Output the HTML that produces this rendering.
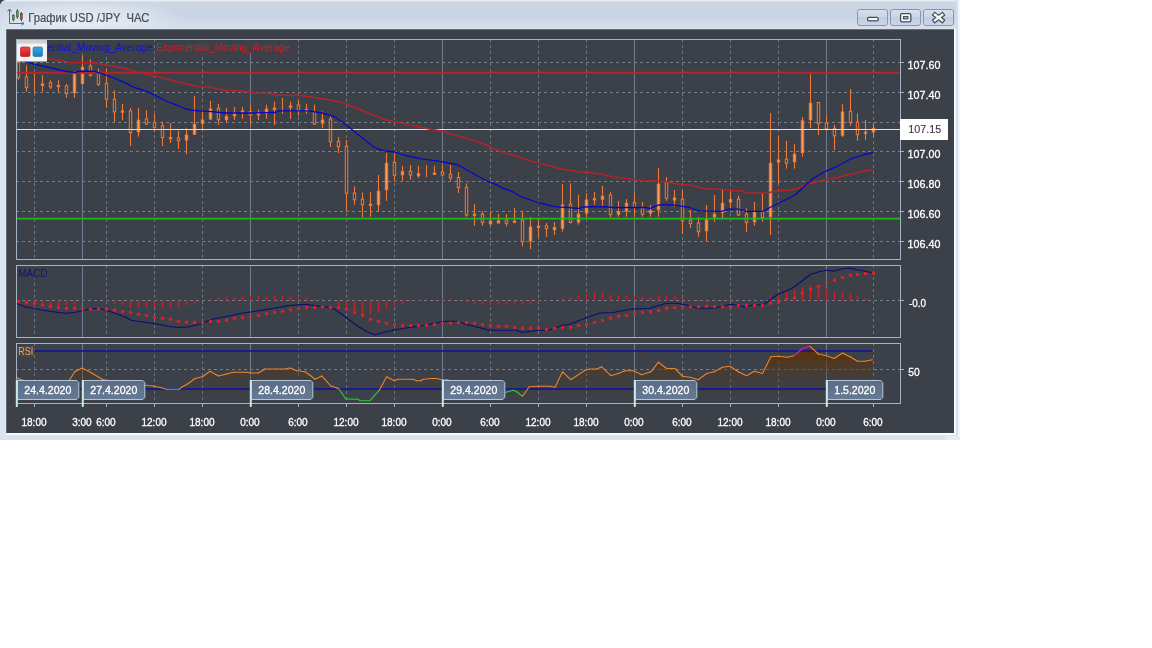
<!DOCTYPE html>
<html lang="ru"><head><meta charset="utf-8"><title>График USD /JPY ЧАС</title>
<style>html,body{margin:0;padding:0;background:#fff;}body{width:1152px;height:648px;overflow:hidden;}svg{display:block;}text{white-space:pre;}</style>
</head><body>
<svg width="1152" height="648" viewBox="0 0 1152 648" font-family='"Liberation Sans", "DejaVu Sans", sans-serif' font-size="11">
<defs>
<linearGradient id="tb" gradientUnits="userSpaceOnUse" x1="0" y1="0" x2="0" y2="30"><stop offset="0" stop-color="#dfe6ee"/><stop offset="0.1" stop-color="#ccd7e4"/><stop offset="0.5" stop-color="#c6d3e3"/><stop offset="0.85" stop-color="#d3deeb"/><stop offset="1" stop-color="#d9e3ef"/></linearGradient>
<radialGradient id="glow" cx="0.5" cy="0.5" r="0.5"><stop offset="0" stop-color="#ffffff" stop-opacity="0.55"/><stop offset="0.6" stop-color="#ffffff" stop-opacity="0.3"/><stop offset="1" stop-color="#ffffff" stop-opacity="0"/></radialGradient>
<linearGradient id="btn" x1="0" y1="0" x2="0" y2="1"><stop offset="0" stop-color="#d6e0ec"/><stop offset="0.45" stop-color="#cbd7e6"/><stop offset="0.5" stop-color="#bfcde0"/><stop offset="1" stop-color="#cbd8e8"/></linearGradient>
<linearGradient id="rsif" gradientUnits="userSpaceOnUse" x1="0" y1="344" x2="0" y2="403"><stop offset="0" stop-color="#5e3206" stop-opacity="0.95"/><stop offset="0.2" stop-color="#5c3208" stop-opacity="0.85"/><stop offset="0.5" stop-color="#5a3510" stop-opacity="0.33"/><stop offset="0.8" stop-color="#503820" stop-opacity="0.08"/><stop offset="1" stop-color="#503820" stop-opacity="0"/></linearGradient>
<linearGradient id="dl" x1="0" y1="0" x2="0" y2="1"><stop offset="0" stop-color="#5b6b86"/><stop offset="1" stop-color="#677a94"/></linearGradient>
<linearGradient id="rsq" x1="0" y1="0" x2="0" y2="1"><stop offset="0" stop-color="#f04a4a"/><stop offset="1" stop-color="#c8181e"/></linearGradient>
<linearGradient id="bsq" x1="0" y1="0" x2="0" y2="1"><stop offset="0" stop-color="#35a8e0"/><stop offset="1" stop-color="#1480c0"/></linearGradient>
<clipPath id="c1"><rect x="16" y="39" width="885" height="221"/></clipPath>
<clipPath id="c3"><rect x="16" y="344" width="885" height="59.5"/></clipPath>
</defs>
<rect width="1152" height="648" fill="#ffffff"/>
<path d="M0 6 Q0 0 6 0 H959 V440 H0 Z" fill="url(#tb)"/>
<rect x="0" y="0" width="959" height="1" fill="#e9eef3"/>
<path d="M0 0 H5 Q1 1 0 5 Z" fill="#3a3f46"/>
<rect x="957" y="0" width="3" height="2" fill="#4a4f58"/>
<ellipse cx="80" cy="17" rx="110" ry="16" fill="url(#glow)"/>
<rect x="0" y="30" width="959" height="410" fill="#dbe5f1"/>
<rect x="956" y="0" width="2" height="440" fill="#cfdff0"/>
<rect x="958" y="0" width="2" height="440" fill="#f2f5f9"/>
<rect x="0" y="436" width="945" height="4" fill="#d9e3ef"/>
<rect x="945" y="436" width="15" height="4" fill="#e4ebf3"/>
<rect x="6" y="29" width="950" height="406" fill="#f8fafc"/>
<rect x="6" y="29" width="948" height="404" fill="#8a9097"/>
<rect x="6.5" y="29.6" width="947.5" height="403.4" fill="#3b4049"/>
<g fill="none" stroke="#4d6a88" stroke-width="1"><path d="M9.5 9.5 V23.5 H23.5"/><path d="M7.5 11.5 L9.5 9 L11.5 11.5"/><path d="M21.5 21.5 L24 23.5 L21.5 25.5"/></g>
<g stroke-width="0.9"><path d="M13.4 14 V21.5" stroke="#35603e"/><rect x="12.6" y="15.6" width="1.6" height="4.2" fill="#5a9a64" stroke="#35603e" stroke-width="0.7"/><path d="M17.4 9 V19" stroke="#35603e"/><rect x="16.6" y="11" width="1.6" height="6" fill="#5a9a64" stroke="#35603e" stroke-width="0.7"/><path d="M21.4 12 V21" stroke="#6a3434"/><rect x="20.6" y="13.4" width="1.6" height="6" fill="#9a5454" stroke="#6a3434" stroke-width="0.7"/></g>
<text x="28.3" y="21.8" font-size="12" fill="#474c5c" stroke="#474c5c" stroke-width="0.2" textLength="121" lengthAdjust="spacingAndGlyphs" xml:space="preserve">График USD /JPY  ЧАС</text>
<rect x="857.5" y="9.5" width="30" height="16" rx="2.5" fill="url(#btn)" stroke="#8b97a8" stroke-width="1"/>
<rect x="890.5" y="9.5" width="30" height="16" rx="2.5" fill="url(#btn)" stroke="#8b97a8" stroke-width="1"/>
<rect x="923.5" y="9.5" width="30" height="16" rx="2.5" fill="url(#btn)" stroke="#8b97a8" stroke-width="1"/>
<rect x="867.6" y="17.4" width="10.6" height="3.4" rx="1.2" fill="#f4f6f8" stroke="#484d56" stroke-width="1.3"/>
<rect x="900.6" y="13.6" width="10.2" height="8.2" rx="1.2" fill="#f4f6f8" stroke="#484d56" stroke-width="1.3"/><rect x="903.6" y="16.6" width="4.2" height="2.2" fill="#ccd7e4" stroke="#484d56" stroke-width="1.2"/>
<path d="M935 14.8 L942.2 20.4 M942.2 14.8 L935 20.4" stroke="#484d56" stroke-width="4.8" stroke-linecap="square" fill="none"/><path d="M935 14.8 L942.2 20.4 M942.2 14.8 L935 20.4" stroke="#f4f6f8" stroke-width="2.4" stroke-linecap="square" fill="none"/>
<path d="M34.5 39.0 V259.5" stroke="#697581" stroke-width="1" stroke-dasharray="3 3" fill="none"/>
<path d="M106.5 39.0 V259.5" stroke="#697581" stroke-width="1" stroke-dasharray="3 3" fill="none"/>
<path d="M154.5 39.0 V259.5" stroke="#697581" stroke-width="1" stroke-dasharray="3 3" fill="none"/>
<path d="M202.5 39.0 V259.5" stroke="#697581" stroke-width="1" stroke-dasharray="3 3" fill="none"/>
<path d="M298.5 39.0 V259.5" stroke="#697581" stroke-width="1" stroke-dasharray="3 3" fill="none"/>
<path d="M346.5 39.0 V259.5" stroke="#697581" stroke-width="1" stroke-dasharray="3 3" fill="none"/>
<path d="M394.5 39.0 V259.5" stroke="#697581" stroke-width="1" stroke-dasharray="3 3" fill="none"/>
<path d="M490.5 39.0 V259.5" stroke="#697581" stroke-width="1" stroke-dasharray="3 3" fill="none"/>
<path d="M538.5 39.0 V259.5" stroke="#697581" stroke-width="1" stroke-dasharray="3 3" fill="none"/>
<path d="M586.5 39.0 V259.5" stroke="#697581" stroke-width="1" stroke-dasharray="3 3" fill="none"/>
<path d="M682.5 39.0 V259.5" stroke="#697581" stroke-width="1" stroke-dasharray="3 3" fill="none"/>
<path d="M730.5 39.0 V259.5" stroke="#697581" stroke-width="1" stroke-dasharray="3 3" fill="none"/>
<path d="M778.5 39.0 V259.5" stroke="#697581" stroke-width="1" stroke-dasharray="3 3" fill="none"/>
<path d="M873.5 39.0 V259.5" stroke="#697581" stroke-width="1" stroke-dasharray="3 3" fill="none"/>
<path d="M82.5 39.5 V259.5" stroke="#6c7d91" stroke-width="1" fill="none"/>
<path d="M250.5 39.5 V259.5" stroke="#6c7d91" stroke-width="1" fill="none"/>
<path d="M442.5 39.5 V259.5" stroke="#6c7d91" stroke-width="1" fill="none"/>
<path d="M634.5 39.5 V259.5" stroke="#6c7d91" stroke-width="1" fill="none"/>
<path d="M826.5 39.5 V259.5" stroke="#6c7d91" stroke-width="1" fill="none"/>
<path d="M16.0 62.5 H900.5" stroke="#727e8b" stroke-width="1" stroke-dasharray="3 3" fill="none"/>
<path d="M900.5 62.5 H904.0" stroke="#a2b4c5" stroke-width="1" fill="none"/>
<path d="M16.0 92.5 H900.5" stroke="#727e8b" stroke-width="1" stroke-dasharray="3 3" fill="none"/>
<path d="M900.5 92.5 H904.0" stroke="#a2b4c5" stroke-width="1" fill="none"/>
<path d="M16.0 122.5 H900.5" stroke="#727e8b" stroke-width="1" stroke-dasharray="3 3" fill="none"/>
<path d="M900.5 122.5 H904.0" stroke="#a2b4c5" stroke-width="1" fill="none"/>
<path d="M16.0 151.5 H900.5" stroke="#727e8b" stroke-width="1" stroke-dasharray="3 3" fill="none"/>
<path d="M900.5 151.5 H904.0" stroke="#a2b4c5" stroke-width="1" fill="none"/>
<path d="M16.0 181.5 H900.5" stroke="#727e8b" stroke-width="1" stroke-dasharray="3 3" fill="none"/>
<path d="M900.5 181.5 H904.0" stroke="#a2b4c5" stroke-width="1" fill="none"/>
<path d="M16.0 211.5 H900.5" stroke="#727e8b" stroke-width="1" stroke-dasharray="3 3" fill="none"/>
<path d="M900.5 211.5 H904.0" stroke="#a2b4c5" stroke-width="1" fill="none"/>
<path d="M16.0 241.5 H900.5" stroke="#727e8b" stroke-width="1" stroke-dasharray="3 3" fill="none"/>
<path d="M900.5 241.5 H904.0" stroke="#a2b4c5" stroke-width="1" fill="none"/>
<path d="M34.5 265.0 V337.5" stroke="#697581" stroke-width="1" stroke-dasharray="3 3" fill="none"/>
<path d="M106.5 265.0 V337.5" stroke="#697581" stroke-width="1" stroke-dasharray="3 3" fill="none"/>
<path d="M154.5 265.0 V337.5" stroke="#697581" stroke-width="1" stroke-dasharray="3 3" fill="none"/>
<path d="M202.5 265.0 V337.5" stroke="#697581" stroke-width="1" stroke-dasharray="3 3" fill="none"/>
<path d="M298.5 265.0 V337.5" stroke="#697581" stroke-width="1" stroke-dasharray="3 3" fill="none"/>
<path d="M346.5 265.0 V337.5" stroke="#697581" stroke-width="1" stroke-dasharray="3 3" fill="none"/>
<path d="M394.5 265.0 V337.5" stroke="#697581" stroke-width="1" stroke-dasharray="3 3" fill="none"/>
<path d="M490.5 265.0 V337.5" stroke="#697581" stroke-width="1" stroke-dasharray="3 3" fill="none"/>
<path d="M538.5 265.0 V337.5" stroke="#697581" stroke-width="1" stroke-dasharray="3 3" fill="none"/>
<path d="M586.5 265.0 V337.5" stroke="#697581" stroke-width="1" stroke-dasharray="3 3" fill="none"/>
<path d="M682.5 265.0 V337.5" stroke="#697581" stroke-width="1" stroke-dasharray="3 3" fill="none"/>
<path d="M730.5 265.0 V337.5" stroke="#697581" stroke-width="1" stroke-dasharray="3 3" fill="none"/>
<path d="M778.5 265.0 V337.5" stroke="#697581" stroke-width="1" stroke-dasharray="3 3" fill="none"/>
<path d="M873.5 265.0 V337.5" stroke="#697581" stroke-width="1" stroke-dasharray="3 3" fill="none"/>
<path d="M82.5 265.5 V337.5" stroke="#6c7d91" stroke-width="1" fill="none"/>
<path d="M250.5 265.5 V337.5" stroke="#6c7d91" stroke-width="1" fill="none"/>
<path d="M442.5 265.5 V337.5" stroke="#6c7d91" stroke-width="1" fill="none"/>
<path d="M634.5 265.5 V337.5" stroke="#6c7d91" stroke-width="1" fill="none"/>
<path d="M826.5 265.5 V337.5" stroke="#6c7d91" stroke-width="1" fill="none"/>
<path d="M16.0 300.5 H900.5" stroke="#727e8b" stroke-width="1" stroke-dasharray="3 3" fill="none"/>
<path d="M900.5 300.5 H904.0" stroke="#a2b4c5" stroke-width="1" fill="none"/>
<path d="M34.5 343.0 V403.5" stroke="#697581" stroke-width="1" stroke-dasharray="3 3" fill="none"/>
<path d="M106.5 343.0 V403.5" stroke="#697581" stroke-width="1" stroke-dasharray="3 3" fill="none"/>
<path d="M154.5 343.0 V403.5" stroke="#697581" stroke-width="1" stroke-dasharray="3 3" fill="none"/>
<path d="M202.5 343.0 V403.5" stroke="#697581" stroke-width="1" stroke-dasharray="3 3" fill="none"/>
<path d="M298.5 343.0 V403.5" stroke="#697581" stroke-width="1" stroke-dasharray="3 3" fill="none"/>
<path d="M346.5 343.0 V403.5" stroke="#697581" stroke-width="1" stroke-dasharray="3 3" fill="none"/>
<path d="M394.5 343.0 V403.5" stroke="#697581" stroke-width="1" stroke-dasharray="3 3" fill="none"/>
<path d="M490.5 343.0 V403.5" stroke="#697581" stroke-width="1" stroke-dasharray="3 3" fill="none"/>
<path d="M538.5 343.0 V403.5" stroke="#697581" stroke-width="1" stroke-dasharray="3 3" fill="none"/>
<path d="M586.5 343.0 V403.5" stroke="#697581" stroke-width="1" stroke-dasharray="3 3" fill="none"/>
<path d="M682.5 343.0 V403.5" stroke="#697581" stroke-width="1" stroke-dasharray="3 3" fill="none"/>
<path d="M730.5 343.0 V403.5" stroke="#697581" stroke-width="1" stroke-dasharray="3 3" fill="none"/>
<path d="M778.5 343.0 V403.5" stroke="#697581" stroke-width="1" stroke-dasharray="3 3" fill="none"/>
<path d="M873.5 343.0 V403.5" stroke="#697581" stroke-width="1" stroke-dasharray="3 3" fill="none"/>
<path d="M82.5 343.5 V403.5" stroke="#6c7d91" stroke-width="1" fill="none"/>
<path d="M250.5 343.5 V403.5" stroke="#6c7d91" stroke-width="1" fill="none"/>
<path d="M442.5 343.5 V403.5" stroke="#6c7d91" stroke-width="1" fill="none"/>
<path d="M634.5 343.5 V403.5" stroke="#6c7d91" stroke-width="1" fill="none"/>
<path d="M826.5 343.5 V403.5" stroke="#6c7d91" stroke-width="1" fill="none"/>
<path d="M16.0 369.5 H900.5" stroke="#727e8b" stroke-width="1" stroke-dasharray="3 3" fill="none"/>
<path d="M900.5 369.5 H904.0" stroke="#a2b4c5" stroke-width="1" fill="none"/>
<g clip-path="url(#c1)">
<path d="M18.5 61.0 V79.7" stroke="#ee7a3a" stroke-width="1.1" fill="none"/>
<rect x="17.3" y="62.3" width="2.4" height="15.4" fill="#453c38" stroke="#ee7a3a" stroke-width="1"/>
<path d="M26.5 65.2 V91.8" stroke="#ee7a3a" stroke-width="1.1" fill="none"/>
<rect x="25.3" y="76.8" width="2.4" height="10.9" fill="#453c38" stroke="#ee7a3a" stroke-width="1"/>
<path d="M34.5 74.0 V92.7" stroke="#ee7a3a" stroke-width="1.1" fill="none"/>
<path d="M42.5 75.2 V91.8" stroke="#ee7a3a" stroke-width="1.1" fill="none"/>
<rect x="41.3" y="84.0" width="2.4" height="1.5" fill="#ff9a55" stroke="#ee7a3a" stroke-width="1"/>
<path d="M50.5 80.2 V89.0" stroke="#ee7a3a" stroke-width="1.1" fill="none"/>
<rect x="49.3" y="82.7" width="2.4" height="4.1" fill="#453c38" stroke="#ee7a3a" stroke-width="1"/>
<path d="M58.5 80.2 V92.3" stroke="#ee7a3a" stroke-width="1.1" fill="none"/>
<rect x="57.3" y="85.5" width="2.4" height="1.2" fill="#ff9a55" stroke="#ee7a3a" stroke-width="1"/>
<path d="M66.5 84.0 V98.0" stroke="#ee7a3a" stroke-width="1.1" fill="none"/>
<rect x="65.3" y="86.0" width="2.4" height="7.5" fill="#453c38" stroke="#ee7a3a" stroke-width="1"/>
<path d="M74.5 71.0 V98.0" stroke="#ee7a3a" stroke-width="1.1" fill="none"/>
<rect x="73.3" y="74.7" width="2.4" height="18.0" fill="#ff9a55" stroke="#ee7a3a" stroke-width="1"/>
<path d="M82.5 56.0 V84.3" stroke="#ee7a3a" stroke-width="1.1" fill="none"/>
<rect x="81.3" y="67.3" width="2.4" height="16.2" fill="#ff9a55" stroke="#ee7a3a" stroke-width="1"/>
<path d="M90.5 59.3 V76.8" stroke="#ee7a3a" stroke-width="1.1" fill="none"/>
<rect x="89.3" y="66.0" width="2.4" height="9.2" fill="#453c38" stroke="#ee7a3a" stroke-width="1"/>
<path d="M98.5 68.5 V86.0" stroke="#ee7a3a" stroke-width="1.1" fill="none"/>
<rect x="97.3" y="72.7" width="2.4" height="11.6" fill="#453c38" stroke="#ee7a3a" stroke-width="1"/>
<path d="M106.5 68.5 V107.7" stroke="#ee7a3a" stroke-width="1.1" fill="none"/>
<rect x="105.3" y="83.5" width="2.4" height="15.8" fill="#453c38" stroke="#ee7a3a" stroke-width="1"/>
<path d="M114.5 90.2 V121.8" stroke="#ee7a3a" stroke-width="1.1" fill="none"/>
<rect x="113.3" y="99.3" width="2.4" height="12.5" fill="#453c38" stroke="#ee7a3a" stroke-width="1"/>
<path d="M122.5 104.0 V120.2" stroke="#ee7a3a" stroke-width="1.1" fill="none"/>
<rect x="121.3" y="111.0" width="2.4" height="1.2" fill="#ff9a55" stroke="#ee7a3a" stroke-width="1"/>
<path d="M130.5 108.0 V145.8" stroke="#ee7a3a" stroke-width="1.1" fill="none"/>
<rect x="129.3" y="111.0" width="2.4" height="21.5" fill="#453c38" stroke="#ee7a3a" stroke-width="1"/>
<path d="M138.5 108.0 V136.7" stroke="#ee7a3a" stroke-width="1.1" fill="none"/>
<rect x="137.3" y="120.2" width="2.4" height="11.6" fill="#ff9a55" stroke="#ee7a3a" stroke-width="1"/>
<path d="M146.5 110.2 V125.2" stroke="#ee7a3a" stroke-width="1.1" fill="none"/>
<rect x="145.3" y="119.0" width="2.4" height="5.0" fill="#453c38" stroke="#ee7a3a" stroke-width="1"/>
<path d="M154.5 114.0 V131.8" stroke="#ee7a3a" stroke-width="1.1" fill="none"/>
<rect x="153.3" y="122.7" width="2.4" height="4.6" fill="#453c38" stroke="#ee7a3a" stroke-width="1"/>
<path d="M162.5 121.7 V145.8" stroke="#ee7a3a" stroke-width="1.1" fill="none"/>
<rect x="161.3" y="125.8" width="2.4" height="11.7" fill="#453c38" stroke="#ee7a3a" stroke-width="1"/>
<path d="M170.5 123.0 V143.0" stroke="#ee7a3a" stroke-width="1.1" fill="none"/>
<rect x="169.3" y="137.5" width="2.4" height="1.2" fill="#ff9a55" stroke="#ee7a3a" stroke-width="1"/>
<path d="M178.5 130.8 V149.2" stroke="#ee7a3a" stroke-width="1.1" fill="none"/>
<rect x="177.3" y="138.0" width="2.4" height="2.8" fill="#453c38" stroke="#ee7a3a" stroke-width="1"/>
<path d="M186.5 128.3 V154.2" stroke="#ee7a3a" stroke-width="1.1" fill="none"/>
<rect x="185.3" y="135.0" width="2.4" height="5.0" fill="#ff9a55" stroke="#ee7a3a" stroke-width="1"/>
<path d="M194.5 96.0 V135.0" stroke="#ee7a3a" stroke-width="1.1" fill="none"/>
<rect x="193.3" y="124.2" width="2.4" height="10.0" fill="#ff9a55" stroke="#ee7a3a" stroke-width="1"/>
<path d="M202.5 110.0 V129.0" stroke="#ee7a3a" stroke-width="1.1" fill="none"/>
<rect x="201.3" y="120.0" width="2.4" height="3.3" fill="#ff9a55" stroke="#ee7a3a" stroke-width="1"/>
<path d="M210.5 100.8 V120.0" stroke="#ee7a3a" stroke-width="1.1" fill="none"/>
<rect x="209.3" y="109.0" width="2.4" height="10.0" fill="#ff9a55" stroke="#ee7a3a" stroke-width="1"/>
<path d="M218.5 104.0 V125.0" stroke="#ee7a3a" stroke-width="1.1" fill="none"/>
<rect x="217.3" y="108.3" width="2.4" height="11.4" fill="#453c38" stroke="#ee7a3a" stroke-width="1"/>
<path d="M226.5 108.0 V122.5" stroke="#ee7a3a" stroke-width="1.1" fill="none"/>
<rect x="225.3" y="116.7" width="2.4" height="3.0" fill="#ff9a55" stroke="#ee7a3a" stroke-width="1"/>
<path d="M234.5 107.0 V120.0" stroke="#ee7a3a" stroke-width="1.1" fill="none"/>
<rect x="233.3" y="113.0" width="2.4" height="3.0" fill="#ff9a55" stroke="#ee7a3a" stroke-width="1"/>
<path d="M242.5 107.0 V119.0" stroke="#ee7a3a" stroke-width="1.1" fill="none"/>
<rect x="241.3" y="111.0" width="2.4" height="1.2" fill="#ff9a55" stroke="#ee7a3a" stroke-width="1"/>
<path d="M250.5 104.7 V125.8" stroke="#ee7a3a" stroke-width="1.1" fill="none"/>
<rect x="249.3" y="111.7" width="2.4" height="3.3" fill="#453c38" stroke="#ee7a3a" stroke-width="1"/>
<path d="M258.5 109.7 V120.0" stroke="#ee7a3a" stroke-width="1.1" fill="none"/>
<rect x="257.3" y="113.5" width="2.4" height="1.2" fill="#ff9a55" stroke="#ee7a3a" stroke-width="1"/>
<path d="M266.5 104.7 V119.0" stroke="#ee7a3a" stroke-width="1.1" fill="none"/>
<rect x="265.3" y="109.0" width="2.4" height="4.3" fill="#ff9a55" stroke="#ee7a3a" stroke-width="1"/>
<path d="M274.5 101.7 V125.0" stroke="#ee7a3a" stroke-width="1.1" fill="none"/>
<rect x="273.3" y="108.2" width="2.4" height="1.2" fill="#ff9a55" stroke="#ee7a3a" stroke-width="1"/>
<path d="M282.5 98.0 V114.0" stroke="#ee7a3a" stroke-width="1.1" fill="none"/>
<path d="M290.5 101.7 V119.0" stroke="#ee7a3a" stroke-width="1.1" fill="none"/>
<rect x="289.3" y="106.0" width="2.4" height="1.2" fill="#ff9a55" stroke="#ee7a3a" stroke-width="1"/>
<path d="M298.5 100.0 V115.8" stroke="#ee7a3a" stroke-width="1.1" fill="none"/>
<rect x="297.3" y="105.0" width="2.4" height="5.8" fill="#453c38" stroke="#ee7a3a" stroke-width="1"/>
<path d="M306.5 103.7 V114.0" stroke="#ee7a3a" stroke-width="1.1" fill="none"/>
<rect x="305.3" y="109.5" width="2.4" height="1.2" fill="#ff9a55" stroke="#ee7a3a" stroke-width="1"/>
<path d="M314.5 104.7 V125.0" stroke="#ee7a3a" stroke-width="1.1" fill="none"/>
<rect x="313.3" y="111.7" width="2.4" height="12.3" fill="#453c38" stroke="#ee7a3a" stroke-width="1"/>
<path d="M322.5 111.3 V128.0" stroke="#ee7a3a" stroke-width="1.1" fill="none"/>
<rect x="321.3" y="120.0" width="2.4" height="3.0" fill="#ff9a55" stroke="#ee7a3a" stroke-width="1"/>
<path d="M330.5 116.3 V147.0" stroke="#ee7a3a" stroke-width="1.1" fill="none"/>
<rect x="329.3" y="119.0" width="2.4" height="22.7" fill="#453c38" stroke="#ee7a3a" stroke-width="1"/>
<path d="M338.5 137.0 V153.0" stroke="#ee7a3a" stroke-width="1.1" fill="none"/>
<rect x="337.3" y="141.3" width="2.4" height="5.4" fill="#453c38" stroke="#ee7a3a" stroke-width="1"/>
<path d="M346.5 140.0 V211.3" stroke="#ee7a3a" stroke-width="1.1" fill="none"/>
<rect x="345.3" y="146.3" width="2.4" height="47.0" fill="#453c38" stroke="#ee7a3a" stroke-width="1"/>
<path d="M354.5 186.3 V204.7" stroke="#ee7a3a" stroke-width="1.1" fill="none"/>
<rect x="353.3" y="193.0" width="2.4" height="6.7" fill="#453c38" stroke="#ee7a3a" stroke-width="1"/>
<path d="M362.5 192.5 V217.5" stroke="#ee7a3a" stroke-width="1.1" fill="none"/>
<rect x="361.3" y="199.2" width="2.4" height="5.5" fill="#453c38" stroke="#ee7a3a" stroke-width="1"/>
<path d="M370.5 192.0 V216.7" stroke="#ee7a3a" stroke-width="1.1" fill="none"/>
<rect x="369.3" y="204.2" width="2.4" height="1.2" fill="#ff9a55" stroke="#ee7a3a" stroke-width="1"/>
<path d="M378.5 175.0 V211.3" stroke="#ee7a3a" stroke-width="1.1" fill="none"/>
<rect x="377.3" y="191.3" width="2.4" height="13.4" fill="#ff9a55" stroke="#ee7a3a" stroke-width="1"/>
<path d="M386.5 153.0 V200.8" stroke="#ee7a3a" stroke-width="1.1" fill="none"/>
<rect x="385.3" y="163.3" width="2.4" height="26.4" fill="#ff9a55" stroke="#ee7a3a" stroke-width="1"/>
<path d="M394.5 153.3 V180.8" stroke="#ee7a3a" stroke-width="1.1" fill="none"/>
<rect x="393.3" y="162.5" width="2.4" height="12.8" fill="#453c38" stroke="#ee7a3a" stroke-width="1"/>
<path d="M402.5 165.8 V180.8" stroke="#ee7a3a" stroke-width="1.1" fill="none"/>
<rect x="401.3" y="171.7" width="2.4" height="3.0" fill="#ff9a55" stroke="#ee7a3a" stroke-width="1"/>
<path d="M410.5 165.0 V179.7" stroke="#ee7a3a" stroke-width="1.1" fill="none"/>
<rect x="409.3" y="171.3" width="2.4" height="3.7" fill="#453c38" stroke="#ee7a3a" stroke-width="1"/>
<path d="M418.5 165.8 V178.0" stroke="#ee7a3a" stroke-width="1.1" fill="none"/>
<rect x="417.3" y="173.7" width="2.4" height="2.1" fill="#ff9a55" stroke="#ee7a3a" stroke-width="1"/>
<path d="M426.5 165.0 V177.0" stroke="#ee7a3a" stroke-width="1.1" fill="none"/>
<path d="M434.5 165.8 V175.0" stroke="#ee7a3a" stroke-width="1.1" fill="none"/>
<rect x="433.3" y="173.0" width="2.4" height="1.5" fill="#ff9a55" stroke="#ee7a3a" stroke-width="1"/>
<path d="M442.5 165.8 V175.3" stroke="#ee7a3a" stroke-width="1.1" fill="none"/>
<rect x="441.3" y="172.0" width="2.4" height="3.0" fill="#453c38" stroke="#ee7a3a" stroke-width="1"/>
<path d="M450.5 165.0 V180.8" stroke="#ee7a3a" stroke-width="1.1" fill="none"/>
<rect x="449.3" y="174.2" width="2.4" height="3.8" fill="#453c38" stroke="#ee7a3a" stroke-width="1"/>
<path d="M458.5 172.0 V193.0" stroke="#ee7a3a" stroke-width="1.1" fill="none"/>
<rect x="457.3" y="177.5" width="2.4" height="10.0" fill="#453c38" stroke="#ee7a3a" stroke-width="1"/>
<path d="M466.5 183.3 V216.7" stroke="#ee7a3a" stroke-width="1.1" fill="none"/>
<rect x="465.3" y="187.5" width="2.4" height="27.5" fill="#453c38" stroke="#ee7a3a" stroke-width="1"/>
<path d="M474.5 204.2 V225.8" stroke="#ee7a3a" stroke-width="1.1" fill="none"/>
<rect x="473.3" y="214.2" width="2.4" height="1.2" fill="#ff9a55" stroke="#ee7a3a" stroke-width="1"/>
<path d="M482.5 211.3 V225.8" stroke="#ee7a3a" stroke-width="1.1" fill="none"/>
<rect x="481.3" y="214.2" width="2.4" height="8.3" fill="#453c38" stroke="#ee7a3a" stroke-width="1"/>
<path d="M490.5 211.3 V225.8" stroke="#ee7a3a" stroke-width="1.1" fill="none"/>
<rect x="489.3" y="221.3" width="2.4" height="2.4" fill="#ff9a55" stroke="#ee7a3a" stroke-width="1"/>
<path d="M498.5 214.2 V223.3" stroke="#ee7a3a" stroke-width="1.1" fill="none"/>
<rect x="497.3" y="220.8" width="2.4" height="2.2" fill="#ff9a55" stroke="#ee7a3a" stroke-width="1"/>
<path d="M506.5 214.2 V226.3" stroke="#ee7a3a" stroke-width="1.1" fill="none"/>
<rect x="505.3" y="220.0" width="2.4" height="3.3" fill="#453c38" stroke="#ee7a3a" stroke-width="1"/>
<path d="M514.5 208.0 V223.3" stroke="#ee7a3a" stroke-width="1.1" fill="none"/>
<rect x="513.3" y="221.2" width="2.4" height="1.2" fill="#ff9a55" stroke="#ee7a3a" stroke-width="1"/>
<path d="M522.5 210.8 V246.3" stroke="#ee7a3a" stroke-width="1.1" fill="none"/>
<rect x="521.3" y="220.0" width="2.4" height="21.7" fill="#453c38" stroke="#ee7a3a" stroke-width="1"/>
<path d="M530.5 217.0 V249.2" stroke="#ee7a3a" stroke-width="1.1" fill="none"/>
<rect x="529.3" y="227.0" width="2.4" height="13.8" fill="#ff9a55" stroke="#ee7a3a" stroke-width="1"/>
<path d="M538.5 218.7 V237.5" stroke="#ee7a3a" stroke-width="1.1" fill="none"/>
<rect x="537.3" y="226.2" width="2.4" height="1.2" fill="#ff9a55" stroke="#ee7a3a" stroke-width="1"/>
<path d="M546.5 223.0 V237.0" stroke="#ee7a3a" stroke-width="1.1" fill="none"/>
<rect x="545.3" y="225.8" width="2.4" height="2.9" fill="#453c38" stroke="#ee7a3a" stroke-width="1"/>
<path d="M554.5 222.0 V235.0" stroke="#ee7a3a" stroke-width="1.1" fill="none"/>
<rect x="553.3" y="227.5" width="2.4" height="2.2" fill="#ff9a55" stroke="#ee7a3a" stroke-width="1"/>
<path d="M562.5 184.2 V231.7" stroke="#ee7a3a" stroke-width="1.1" fill="none"/>
<rect x="561.3" y="205.0" width="2.4" height="23.3" fill="#ff9a55" stroke="#ee7a3a" stroke-width="1"/>
<path d="M570.5 183.3 V223.3" stroke="#ee7a3a" stroke-width="1.1" fill="none"/>
<rect x="569.3" y="204.2" width="2.4" height="18.3" fill="#453c38" stroke="#ee7a3a" stroke-width="1"/>
<path d="M578.5 194.7 V224.7" stroke="#ee7a3a" stroke-width="1.1" fill="none"/>
<rect x="577.3" y="214.2" width="2.4" height="7.8" fill="#ff9a55" stroke="#ee7a3a" stroke-width="1"/>
<path d="M586.5 193.0 V217.5" stroke="#ee7a3a" stroke-width="1.1" fill="none"/>
<rect x="585.3" y="200.0" width="2.4" height="13.0" fill="#ff9a55" stroke="#ee7a3a" stroke-width="1"/>
<path d="M594.5 192.0 V205.0" stroke="#ee7a3a" stroke-width="1.1" fill="none"/>
<rect x="593.3" y="198.7" width="2.4" height="1.2" fill="#ff9a55" stroke="#ee7a3a" stroke-width="1"/>
<path d="M602.5 185.8 V205.8" stroke="#ee7a3a" stroke-width="1.1" fill="none"/>
<rect x="601.3" y="196.3" width="2.4" height="2.9" fill="#ff9a55" stroke="#ee7a3a" stroke-width="1"/>
<path d="M610.5 192.0 V217.5" stroke="#ee7a3a" stroke-width="1.1" fill="none"/>
<rect x="609.3" y="195.0" width="2.4" height="19.7" fill="#453c38" stroke="#ee7a3a" stroke-width="1"/>
<path d="M618.5 200.8 V216.7" stroke="#ee7a3a" stroke-width="1.1" fill="none"/>
<rect x="617.3" y="211.7" width="2.4" height="2.5" fill="#ff9a55" stroke="#ee7a3a" stroke-width="1"/>
<path d="M626.5 199.2 V216.7" stroke="#ee7a3a" stroke-width="1.1" fill="none"/>
<rect x="625.3" y="203.3" width="2.4" height="7.5" fill="#ff9a55" stroke="#ee7a3a" stroke-width="1"/>
<path d="M634.5 193.0 V216.3" stroke="#ee7a3a" stroke-width="1.1" fill="none"/>
<rect x="633.3" y="202.5" width="2.4" height="5.0" fill="#453c38" stroke="#ee7a3a" stroke-width="1"/>
<path d="M642.5 202.0 V216.7" stroke="#ee7a3a" stroke-width="1.1" fill="none"/>
<rect x="641.3" y="207.5" width="2.4" height="6.7" fill="#453c38" stroke="#ee7a3a" stroke-width="1"/>
<path d="M650.5 205.0 V216.7" stroke="#ee7a3a" stroke-width="1.1" fill="none"/>
<rect x="649.3" y="210.8" width="2.4" height="2.2" fill="#ff9a55" stroke="#ee7a3a" stroke-width="1"/>
<path d="M658.5 168.0 V216.7" stroke="#ee7a3a" stroke-width="1.1" fill="none"/>
<rect x="657.3" y="184.2" width="2.4" height="25.5" fill="#ff9a55" stroke="#ee7a3a" stroke-width="1"/>
<path d="M666.5 177.0 V200.8" stroke="#ee7a3a" stroke-width="1.1" fill="none"/>
<rect x="665.3" y="182.5" width="2.4" height="15.8" fill="#453c38" stroke="#ee7a3a" stroke-width="1"/>
<path d="M674.5 190.0 V206.7" stroke="#ee7a3a" stroke-width="1.1" fill="none"/>
<rect x="673.3" y="198.0" width="2.4" height="2.0" fill="#ff9a55" stroke="#ee7a3a" stroke-width="1"/>
<path d="M682.5 189.7 V234.2" stroke="#ee7a3a" stroke-width="1.1" fill="none"/>
<rect x="681.3" y="199.2" width="2.4" height="21.6" fill="#453c38" stroke="#ee7a3a" stroke-width="1"/>
<path d="M690.5 210.0 V228.0" stroke="#ee7a3a" stroke-width="1.1" fill="none"/>
<rect x="689.3" y="220.0" width="2.4" height="3.7" fill="#453c38" stroke="#ee7a3a" stroke-width="1"/>
<path d="M698.5 217.0 V236.7" stroke="#ee7a3a" stroke-width="1.1" fill="none"/>
<rect x="697.3" y="223.0" width="2.4" height="8.7" fill="#453c38" stroke="#ee7a3a" stroke-width="1"/>
<path d="M706.5 205.0 V241.3" stroke="#ee7a3a" stroke-width="1.1" fill="none"/>
<rect x="705.3" y="219.2" width="2.4" height="11.6" fill="#ff9a55" stroke="#ee7a3a" stroke-width="1"/>
<path d="M714.5 195.0 V221.7" stroke="#ee7a3a" stroke-width="1.1" fill="none"/>
<rect x="713.3" y="214.2" width="2.4" height="2.8" fill="#ff9a55" stroke="#ee7a3a" stroke-width="1"/>
<path d="M722.5 190.0 V218.3" stroke="#ee7a3a" stroke-width="1.1" fill="none"/>
<rect x="721.3" y="203.3" width="2.4" height="9.2" fill="#ff9a55" stroke="#ee7a3a" stroke-width="1"/>
<path d="M730.5 190.8 V208.3" stroke="#ee7a3a" stroke-width="1.1" fill="none"/>
<rect x="729.3" y="199.7" width="2.4" height="2.3" fill="#ff9a55" stroke="#ee7a3a" stroke-width="1"/>
<path d="M738.5 195.8 V215.8" stroke="#ee7a3a" stroke-width="1.1" fill="none"/>
<rect x="737.3" y="199.2" width="2.4" height="15.8" fill="#453c38" stroke="#ee7a3a" stroke-width="1"/>
<path d="M746.5 208.3 V231.7" stroke="#ee7a3a" stroke-width="1.1" fill="none"/>
<rect x="745.3" y="214.2" width="2.4" height="8.3" fill="#453c38" stroke="#ee7a3a" stroke-width="1"/>
<path d="M754.5 202.0 V225.8" stroke="#ee7a3a" stroke-width="1.1" fill="none"/>
<rect x="753.3" y="211.7" width="2.4" height="10.0" fill="#ff9a55" stroke="#ee7a3a" stroke-width="1"/>
<path d="M762.5 193.7 V221.7" stroke="#ee7a3a" stroke-width="1.1" fill="none"/>
<rect x="761.3" y="211.7" width="2.4" height="5.8" fill="#453c38" stroke="#ee7a3a" stroke-width="1"/>
<path d="M770.5 113.0 V235.0" stroke="#ee7a3a" stroke-width="1.1" fill="none"/>
<rect x="769.3" y="163.3" width="2.4" height="53.4" fill="#ff9a55" stroke="#ee7a3a" stroke-width="1"/>
<path d="M778.5 135.8 V184.2" stroke="#ee7a3a" stroke-width="1.1" fill="none"/>
<rect x="777.3" y="160.0" width="2.4" height="2.0" fill="#ff9a55" stroke="#ee7a3a" stroke-width="1"/>
<path d="M786.5 140.8 V168.7" stroke="#ee7a3a" stroke-width="1.1" fill="none"/>
<rect x="785.3" y="159.2" width="2.4" height="3.8" fill="#453c38" stroke="#ee7a3a" stroke-width="1"/>
<path d="M794.5 144.2 V168.7" stroke="#ee7a3a" stroke-width="1.1" fill="none"/>
<rect x="793.3" y="154.2" width="2.4" height="7.5" fill="#ff9a55" stroke="#ee7a3a" stroke-width="1"/>
<path d="M802.5 117.0 V156.7" stroke="#ee7a3a" stroke-width="1.1" fill="none"/>
<rect x="801.3" y="120.8" width="2.4" height="31.7" fill="#ff9a55" stroke="#ee7a3a" stroke-width="1"/>
<path d="M810.5 74.2 V128.0" stroke="#ee7a3a" stroke-width="1.1" fill="none"/>
<rect x="809.3" y="103.3" width="2.4" height="16.4" fill="#ff9a55" stroke="#ee7a3a" stroke-width="1"/>
<path d="M818.5 102.0 V135.0" stroke="#ee7a3a" stroke-width="1.1" fill="none"/>
<rect x="817.3" y="102.5" width="2.4" height="20.8" fill="#453c38" stroke="#ee7a3a" stroke-width="1"/>
<path d="M826.5 115.8 V130.8" stroke="#ee7a3a" stroke-width="1.1" fill="none"/>
<rect x="825.3" y="123.0" width="2.4" height="5.7" fill="#453c38" stroke="#ee7a3a" stroke-width="1"/>
<path d="M834.5 125.0 V150.0" stroke="#ee7a3a" stroke-width="1.1" fill="none"/>
<rect x="833.3" y="128.3" width="2.4" height="7.5" fill="#453c38" stroke="#ee7a3a" stroke-width="1"/>
<path d="M842.5 104.2 V137.0" stroke="#ee7a3a" stroke-width="1.1" fill="none"/>
<rect x="841.3" y="112.0" width="2.4" height="23.3" fill="#ff9a55" stroke="#ee7a3a" stroke-width="1"/>
<path d="M850.5 89.2 V125.8" stroke="#ee7a3a" stroke-width="1.1" fill="none"/>
<rect x="849.3" y="111.3" width="2.4" height="11.2" fill="#453c38" stroke="#ee7a3a" stroke-width="1"/>
<path d="M857.5 113.3 V140.8" stroke="#ee7a3a" stroke-width="1.1" fill="none"/>
<rect x="856.3" y="122.0" width="2.4" height="12.7" fill="#453c38" stroke="#ee7a3a" stroke-width="1"/>
<path d="M865.5 120.0 V140.0" stroke="#ee7a3a" stroke-width="1.1" fill="none"/>
<rect x="864.3" y="132.3" width="2.4" height="1.2" fill="#ff9a55" stroke="#ee7a3a" stroke-width="1"/>
<path d="M873.5 122.5 V137.5" stroke="#ee7a3a" stroke-width="1.1" fill="none"/>
<rect x="872.3" y="128.3" width="2.4" height="3.7" fill="#ff9a55" stroke="#ee7a3a" stroke-width="1"/>
<path d="M16.5 72.8 H900.5" stroke="#b8242a" stroke-width="1.9" fill="none"/>
<path d="M16.5 218.7 H900.5" stroke="#22b61e" stroke-width="1.7" fill="none"/>
<path d="M16.5 129.5 H900.5" stroke="#e0e0e0" stroke-width="1.2" fill="none"/>
<polyline points="18.5,55.0 34.0,57.0 47.2,58.5 58.0,60.2 71.3,62.7 94.7,62.7 108.0,65.2 124.7,68.5 141.3,73.0 158.0,76.8 174.7,81.0 191.3,85.2 200.0,86.8 208.7,86.9 225.3,90.5 242.0,90.8 250.3,92.8 267.0,93.3 275.3,95.0 300.3,95.3 308.7,96.7 325.3,99.2 342.0,102.5 350.3,105.8 358.7,109.2 375.3,115.8 384.0,119.2 395.5,122.0 428.0,128.8 443.0,131.3 453.3,134.7 470.0,139.2 486.7,145.0 496.0,150.0 512.7,155.0 529.3,160.8 546.0,165.0 562.7,169.2 579.3,171.7 596.0,173.3 612.7,176.7 629.3,178.7 641.0,180.8 662.7,181.3 679.3,184.2 690.0,185.0 705.0,188.7 721.7,189.2 730.0,190.8 741.7,190.8 746.7,193.0 768.3,193.0 773.3,191.3 788.3,190.3 796.7,188.7 805.0,185.3 813.3,182.5 821.7,180.8 826.7,179.2 833.3,178.7 846.7,175.0 863.3,171.3 873.5,169.5" fill="none" stroke="#b42328" stroke-width="1.5" stroke-linejoin="round"/>
<polyline points="18.5,59.5 24.7,61.0 34.7,64.3 49.7,67.7 66.3,71.5 74.7,72.3 81.3,71.0 94.7,71.3 104.7,74.7 116.3,79.0 124.7,82.7 133.0,86.8 149.7,92.7 158.0,96.8 166.3,101.0 174.7,104.3 184.7,108.5 191.3,110.2 200.0,111.0 208.7,111.3 225.3,113.0 250.3,113.0 275.3,112.5 278.7,110.8 308.7,110.8 322.0,113.0 333.7,116.3 342.0,121.7 350.3,128.3 358.7,135.0 367.0,141.7 375.3,148.0 384.0,150.8 395.0,152.0 403.3,155.0 420.0,158.7 436.7,160.8 453.3,163.8 458.3,165.0 470.0,171.7 486.7,180.8 496.0,184.7 503.3,188.3 512.7,191.7 521.0,196.7 537.7,202.5 554.3,206.7 579.3,208.3 582.7,207.0 604.3,206.7 612.7,207.5 646.0,207.5 649.3,208.7 658.5,205.0 671.0,204.7 679.3,205.8 690.0,207.5 698.3,210.8 721.7,211.3 728.3,209.2 738.3,209.2 746.7,211.3 762.5,211.3 770.0,207.5 780.0,202.5 795.0,195.0 805.0,185.8 813.3,178.3 826.7,170.8 838.3,165.8 850.0,159.2 863.3,155.0 873.5,152.3" fill="none" stroke="#0808c4" stroke-width="1.3" stroke-linejoin="round"/>
</g>
<rect x="17" y="40" width="136.6" height="13.5" fill="#3b4049"/>
<rect x="155.6" y="40" width="137" height="13.5" fill="#3b4049"/>
<text x="18.6" y="51.2" fill="#1010dc" textLength="134" lengthAdjust="spacingAndGlyphs">Exponential_Moving_Average</text>
<text x="156.3" y="51.2" fill="#d81a24" textLength="134" lengthAdjust="spacingAndGlyphs">Exponential_Moving_Average</text>
<rect x="16" y="39.5" width="31" height="22" fill="#f2f2f2"/>
<rect x="16" y="39.5" width="31" height="4" fill="#cfcfcf"/>
<rect x="20.5" y="47" width="9.5" height="9.5" rx="1.5" fill="url(#rsq)" stroke="#b01018" stroke-width="0.6"/>
<rect x="33" y="47" width="9.5" height="9.5" rx="1.5" fill="url(#bsq)" stroke="#1070b0" stroke-width="0.6"/>
<path d="M18.5 300.5 V303.4" stroke="#c42228" stroke-width="1.7" fill="none"/>
<path d="M26.5 300.5 V305.1" stroke="#c42228" stroke-width="1.7" fill="none"/>
<path d="M34.5 300.5 V305.9" stroke="#c42228" stroke-width="1.7" fill="none"/>
<path d="M42.5 300.5 V305.6" stroke="#c42228" stroke-width="1.7" fill="none"/>
<path d="M50.5 300.5 V305.6" stroke="#c42228" stroke-width="1.7" fill="none"/>
<path d="M58.5 300.5 V305.5" stroke="#c42228" stroke-width="1.7" fill="none"/>
<path d="M66.5 300.5 V305.4" stroke="#c42228" stroke-width="1.7" fill="none"/>
<path d="M74.5 300.5 V304.7" stroke="#c42228" stroke-width="1.7" fill="none"/>
<path d="M82.5 300.5 V301.7" stroke="#c42228" stroke-width="1.7" fill="none"/>
<path d="M106.5 300.5 V301.7" stroke="#c42228" stroke-width="1.7" fill="none"/>
<path d="M114.5 300.5 V303.3" stroke="#c42228" stroke-width="1.7" fill="none"/>
<path d="M122.5 300.5 V304.7" stroke="#c42228" stroke-width="1.7" fill="none"/>
<path d="M130.5 300.5 V307.9" stroke="#c42228" stroke-width="1.7" fill="none"/>
<path d="M138.5 300.5 V307.6" stroke="#c42228" stroke-width="1.7" fill="none"/>
<path d="M146.5 300.5 V307.5" stroke="#c42228" stroke-width="1.7" fill="none"/>
<path d="M154.5 300.5 V307.0" stroke="#c42228" stroke-width="1.7" fill="none"/>
<path d="M162.5 300.5 V307.3" stroke="#c42228" stroke-width="1.7" fill="none"/>
<path d="M170.5 300.5 V307.9" stroke="#c42228" stroke-width="1.7" fill="none"/>
<path d="M178.5 300.5 V306.7" stroke="#c42228" stroke-width="1.7" fill="none"/>
<path d="M186.5 300.5 V305.4" stroke="#c42228" stroke-width="1.7" fill="none"/>
<path d="M194.5 300.5 V303.4" stroke="#c42228" stroke-width="1.7" fill="none"/>
<path d="M210.5 300.5 V299.0" stroke="#c42228" stroke-width="1.7" fill="none"/>
<path d="M218.5 300.5 V297.2" stroke="#c42228" stroke-width="1.7" fill="none"/>
<path d="M226.5 300.5 V296.7" stroke="#c42228" stroke-width="1.7" fill="none"/>
<path d="M234.5 300.5 V297.0" stroke="#c42228" stroke-width="1.7" fill="none"/>
<path d="M242.5 300.5 V296.2" stroke="#c42228" stroke-width="1.7" fill="none"/>
<path d="M250.5 300.5 V295.8" stroke="#c42228" stroke-width="1.7" fill="none"/>
<path d="M258.5 300.5 V295.8" stroke="#c42228" stroke-width="1.7" fill="none"/>
<path d="M266.5 300.5 V296.3" stroke="#c42228" stroke-width="1.7" fill="none"/>
<path d="M274.5 300.5 V296.1" stroke="#c42228" stroke-width="1.7" fill="none"/>
<path d="M282.5 300.5 V295.9" stroke="#c42228" stroke-width="1.7" fill="none"/>
<path d="M290.5 300.5 V296.2" stroke="#c42228" stroke-width="1.7" fill="none"/>
<path d="M298.5 300.5 V296.5" stroke="#c42228" stroke-width="1.7" fill="none"/>
<path d="M306.5 300.5 V297.4" stroke="#c42228" stroke-width="1.7" fill="none"/>
<path d="M314.5 300.5 V298.7" stroke="#c42228" stroke-width="1.7" fill="none"/>
<path d="M338.5 300.5 V304.9" stroke="#c42228" stroke-width="1.7" fill="none"/>
<path d="M346.5 300.5 V309.1" stroke="#c42228" stroke-width="1.7" fill="none"/>
<path d="M354.5 300.5 V311.8" stroke="#c42228" stroke-width="1.7" fill="none"/>
<path d="M362.5 300.5 V314.2" stroke="#c42228" stroke-width="1.7" fill="none"/>
<path d="M370.5 300.5 V314.3" stroke="#c42228" stroke-width="1.7" fill="none"/>
<path d="M378.5 300.5 V313.0" stroke="#c42228" stroke-width="1.7" fill="none"/>
<path d="M386.5 300.5 V308.8" stroke="#c42228" stroke-width="1.7" fill="none"/>
<path d="M394.5 300.5 V305.8" stroke="#c42228" stroke-width="1.7" fill="none"/>
<path d="M402.5 300.5 V303.3" stroke="#c42228" stroke-width="1.7" fill="none"/>
<path d="M410.5 300.5 V302.3" stroke="#c42228" stroke-width="1.7" fill="none"/>
<path d="M418.5 300.5 V301.1" stroke="#c42228" stroke-width="1.7" fill="none"/>
<path d="M434.5 300.5 V299.3" stroke="#c42228" stroke-width="1.7" fill="none"/>
<path d="M442.5 300.5 V299.1" stroke="#c42228" stroke-width="1.7" fill="none"/>
<path d="M450.5 300.5 V298.5" stroke="#c42228" stroke-width="1.7" fill="none"/>
<path d="M458.5 300.5 V299.6" stroke="#c42228" stroke-width="1.7" fill="none"/>
<path d="M466.5 300.5 V302.3" stroke="#c42228" stroke-width="1.7" fill="none"/>
<path d="M474.5 300.5 V303.5" stroke="#c42228" stroke-width="1.7" fill="none"/>
<path d="M482.5 300.5 V304.5" stroke="#c42228" stroke-width="1.7" fill="none"/>
<path d="M490.5 300.5 V305.3" stroke="#c42228" stroke-width="1.7" fill="none"/>
<path d="M498.5 300.5 V304.5" stroke="#c42228" stroke-width="1.7" fill="none"/>
<path d="M506.5 300.5 V304.5" stroke="#c42228" stroke-width="1.7" fill="none"/>
<path d="M514.5 300.5 V303.3" stroke="#c42228" stroke-width="1.7" fill="none"/>
<path d="M522.5 300.5 V304.6" stroke="#c42228" stroke-width="1.7" fill="none"/>
<path d="M530.5 300.5 V303.6" stroke="#c42228" stroke-width="1.7" fill="none"/>
<path d="M538.5 300.5 V302.6" stroke="#c42228" stroke-width="1.7" fill="none"/>
<path d="M546.5 300.5 V301.3" stroke="#c42228" stroke-width="1.7" fill="none"/>
<path d="M562.5 300.5 V298.4" stroke="#c42228" stroke-width="1.7" fill="none"/>
<path d="M570.5 300.5 V297.0" stroke="#c42228" stroke-width="1.7" fill="none"/>
<path d="M578.5 300.5 V295.9" stroke="#c42228" stroke-width="1.7" fill="none"/>
<path d="M586.5 300.5 V293.8" stroke="#c42228" stroke-width="1.7" fill="none"/>
<path d="M594.5 300.5 V292.9" stroke="#c42228" stroke-width="1.7" fill="none"/>
<path d="M602.5 300.5 V292.9" stroke="#c42228" stroke-width="1.7" fill="none"/>
<path d="M610.5 300.5 V294.8" stroke="#c42228" stroke-width="1.7" fill="none"/>
<path d="M618.5 300.5 V295.7" stroke="#c42228" stroke-width="1.7" fill="none"/>
<path d="M626.5 300.5 V294.9" stroke="#c42228" stroke-width="1.7" fill="none"/>
<path d="M634.5 300.5 V296.2" stroke="#c42228" stroke-width="1.7" fill="none"/>
<path d="M642.5 300.5 V296.6" stroke="#c42228" stroke-width="1.7" fill="none"/>
<path d="M650.5 300.5 V296.9" stroke="#c42228" stroke-width="1.7" fill="none"/>
<path d="M658.5 300.5 V295.5" stroke="#c42228" stroke-width="1.7" fill="none"/>
<path d="M666.5 300.5 V295.6" stroke="#c42228" stroke-width="1.7" fill="none"/>
<path d="M674.5 300.5 V296.3" stroke="#c42228" stroke-width="1.7" fill="none"/>
<path d="M682.5 300.5 V298.1" stroke="#c42228" stroke-width="1.7" fill="none"/>
<path d="M690.5 300.5 V299.9" stroke="#c42228" stroke-width="1.7" fill="none"/>
<path d="M698.5 300.5 V302.1" stroke="#c42228" stroke-width="1.7" fill="none"/>
<path d="M706.5 300.5 V302.5" stroke="#c42228" stroke-width="1.7" fill="none"/>
<path d="M714.5 300.5 V302.1" stroke="#c42228" stroke-width="1.7" fill="none"/>
<path d="M722.5 300.5 V299.8" stroke="#c42228" stroke-width="1.7" fill="none"/>
<path d="M730.5 300.5 V298.2" stroke="#c42228" stroke-width="1.7" fill="none"/>
<path d="M746.5 300.5 V301.2" stroke="#c42228" stroke-width="1.7" fill="none"/>
<path d="M770.5 300.5 V296.6" stroke="#c42228" stroke-width="1.7" fill="none"/>
<path d="M778.5 300.5 V293.4" stroke="#c42228" stroke-width="1.7" fill="none"/>
<path d="M786.5 300.5 V292.1" stroke="#c42228" stroke-width="1.7" fill="none"/>
<path d="M794.5 300.5 V289.6" stroke="#c42228" stroke-width="1.7" fill="none"/>
<path d="M802.5 300.5 V287.8" stroke="#c42228" stroke-width="1.7" fill="none"/>
<path d="M810.5 300.5 V285.7" stroke="#c42228" stroke-width="1.7" fill="none"/>
<path d="M818.5 300.5 V286.1" stroke="#c42228" stroke-width="1.7" fill="none"/>
<path d="M826.5 300.5 V288.3" stroke="#c42228" stroke-width="1.7" fill="none"/>
<path d="M834.5 300.5 V291.3" stroke="#c42228" stroke-width="1.7" fill="none"/>
<path d="M842.5 300.5 V291.7" stroke="#c42228" stroke-width="1.7" fill="none"/>
<path d="M850.5 300.5 V293.5" stroke="#c42228" stroke-width="1.7" fill="none"/>
<path d="M857.5 300.5 V295.9" stroke="#c42228" stroke-width="1.7" fill="none"/>
<path d="M865.5 300.5 V298.0" stroke="#c42228" stroke-width="1.7" fill="none"/>
<polyline points="16.3,303.3 24.7,306.7 34.7,308.7 49.7,311.3 64.7,313.3 74.7,312.5 83.0,310.3 91.3,308.7 98.8,308.3 108.0,310.8 124.7,316.7 131.3,320.3 141.3,321.7 158.0,324.2 168.0,326.3 178.0,327.5 188.0,327.0 196.3,325.0 202.0,323.3 212.0,319.2 225.3,316.7 242.0,313.3 258.7,310.8 275.3,308.0 288.7,305.5 305.3,304.2 315.3,305.8 325.3,306.7 333.7,308.7 342.0,314.2 350.3,320.8 358.7,326.7 367.0,331.7 375.3,334.7 386.0,331.7 394.3,330.0 409.3,327.5 426.0,325.0 434.3,323.3 446.0,321.3 457.7,321.3 466.0,324.2 476.0,326.7 489.3,330.3 516.0,330.3 522.7,332.5 531.0,331.3 539.3,330.3 547.7,330.3 554.3,328.3 562.7,325.3 570.0,324.2 585.0,318.3 600.0,313.0 613.3,312.5 630.0,309.2 650.0,308.3 660.0,305.0 666.7,303.3 676.7,303.3 686.7,305.0 698.3,308.3 715.0,308.3 723.3,305.8 731.7,304.2 743.3,306.7 754.0,305.0 763.2,305.0 770.7,299.2 777.3,294.7 786.5,290.8 794.0,287.0 802.3,280.8 810.7,274.2 819.0,271.7 826.5,270.3 834.0,271.3 842.3,268.7 850.7,268.3 859.0,270.3 865.5,271.2 873.5,273.0" fill="none" stroke="#0c0c74" stroke-width="1.1" stroke-linejoin="round"/>
<circle cx="18.5" cy="301.3" r="1.75" fill="#e81c26"/>
<circle cx="26.5" cy="302.5" r="1.75" fill="#e81c26"/>
<circle cx="34.5" cy="303.3" r="1.75" fill="#e81c26"/>
<circle cx="42.5" cy="305.0" r="1.75" fill="#e81c26"/>
<circle cx="50.5" cy="306.3" r="1.75" fill="#e81c26"/>
<circle cx="58.5" cy="307.5" r="1.75" fill="#e81c26"/>
<circle cx="66.5" cy="308.3" r="1.75" fill="#e81c26"/>
<circle cx="74.5" cy="308.3" r="1.75" fill="#e81c26"/>
<circle cx="82.5" cy="309.2" r="1.75" fill="#e81c26"/>
<circle cx="90.5" cy="309.2" r="1.75" fill="#e81c26"/>
<circle cx="98.5" cy="308.7" r="1.75" fill="#e81c26"/>
<circle cx="106.5" cy="309.2" r="1.75" fill="#e81c26"/>
<circle cx="114.5" cy="310.3" r="1.75" fill="#e81c26"/>
<circle cx="122.5" cy="311.7" r="1.75" fill="#e81c26"/>
<circle cx="130.5" cy="312.5" r="1.75" fill="#e81c26"/>
<circle cx="138.5" cy="314.2" r="1.75" fill="#e81c26"/>
<circle cx="146.5" cy="315.5" r="1.75" fill="#e81c26"/>
<circle cx="154.5" cy="317.2" r="1.75" fill="#e81c26"/>
<circle cx="162.5" cy="318.3" r="1.75" fill="#e81c26"/>
<circle cx="170.5" cy="319.2" r="1.75" fill="#e81c26"/>
<circle cx="178.5" cy="321.3" r="1.75" fill="#e81c26"/>
<circle cx="186.5" cy="322.2" r="1.75" fill="#e81c26"/>
<circle cx="194.5" cy="322.5" r="1.75" fill="#e81c26"/>
<circle cx="202.5" cy="322.5" r="1.75" fill="#e81c26"/>
<circle cx="210.5" cy="321.3" r="1.75" fill="#e81c26"/>
<circle cx="218.5" cy="321.3" r="1.75" fill="#e81c26"/>
<circle cx="226.5" cy="320.3" r="1.75" fill="#e81c26"/>
<circle cx="234.5" cy="318.3" r="1.75" fill="#e81c26"/>
<circle cx="242.5" cy="317.5" r="1.75" fill="#e81c26"/>
<circle cx="250.5" cy="316.7" r="1.75" fill="#e81c26"/>
<circle cx="258.5" cy="315.5" r="1.75" fill="#e81c26"/>
<circle cx="266.5" cy="313.7" r="1.75" fill="#e81c26"/>
<circle cx="274.5" cy="312.5" r="1.75" fill="#e81c26"/>
<circle cx="282.5" cy="311.3" r="1.75" fill="#e81c26"/>
<circle cx="290.5" cy="309.7" r="1.75" fill="#e81c26"/>
<circle cx="298.5" cy="308.7" r="1.75" fill="#e81c26"/>
<circle cx="306.5" cy="307.5" r="1.75" fill="#e81c26"/>
<circle cx="314.5" cy="307.5" r="1.75" fill="#e81c26"/>
<circle cx="322.5" cy="306.7" r="1.75" fill="#e81c26"/>
<circle cx="330.5" cy="307.5" r="1.75" fill="#e81c26"/>
<circle cx="338.5" cy="307.5" r="1.75" fill="#e81c26"/>
<circle cx="346.5" cy="309.2" r="1.75" fill="#e81c26"/>
<circle cx="354.5" cy="312.5" r="1.75" fill="#e81c26"/>
<circle cx="362.5" cy="315.3" r="1.75" fill="#e81c26"/>
<circle cx="370.5" cy="319.2" r="1.75" fill="#e81c26"/>
<circle cx="378.5" cy="321.3" r="1.75" fill="#e81c26"/>
<circle cx="386.5" cy="323.3" r="1.75" fill="#e81c26"/>
<circle cx="394.5" cy="324.7" r="1.75" fill="#e81c26"/>
<circle cx="402.5" cy="325.8" r="1.75" fill="#e81c26"/>
<circle cx="410.5" cy="325.5" r="1.75" fill="#e81c26"/>
<circle cx="418.5" cy="325.5" r="1.75" fill="#e81c26"/>
<circle cx="426.5" cy="325.3" r="1.75" fill="#e81c26"/>
<circle cx="434.5" cy="324.5" r="1.75" fill="#e81c26"/>
<circle cx="442.5" cy="323.3" r="1.75" fill="#e81c26"/>
<circle cx="450.5" cy="323.3" r="1.75" fill="#e81c26"/>
<circle cx="458.5" cy="322.5" r="1.75" fill="#e81c26"/>
<circle cx="466.5" cy="322.5" r="1.75" fill="#e81c26"/>
<circle cx="474.5" cy="323.3" r="1.75" fill="#e81c26"/>
<circle cx="482.5" cy="324.5" r="1.75" fill="#e81c26"/>
<circle cx="490.5" cy="325.5" r="1.75" fill="#e81c26"/>
<circle cx="498.5" cy="326.3" r="1.75" fill="#e81c26"/>
<circle cx="506.5" cy="326.3" r="1.75" fill="#e81c26"/>
<circle cx="514.5" cy="327.5" r="1.75" fill="#e81c26"/>
<circle cx="522.5" cy="328.3" r="1.75" fill="#e81c26"/>
<circle cx="530.5" cy="328.3" r="1.75" fill="#e81c26"/>
<circle cx="538.5" cy="328.3" r="1.75" fill="#e81c26"/>
<circle cx="546.5" cy="329.5" r="1.75" fill="#e81c26"/>
<circle cx="554.5" cy="328.3" r="1.75" fill="#e81c26"/>
<circle cx="562.5" cy="327.5" r="1.75" fill="#e81c26"/>
<circle cx="570.5" cy="327.5" r="1.75" fill="#e81c26"/>
<circle cx="578.5" cy="325.5" r="1.75" fill="#e81c26"/>
<circle cx="586.5" cy="324.5" r="1.75" fill="#e81c26"/>
<circle cx="594.5" cy="322.5" r="1.75" fill="#e81c26"/>
<circle cx="602.5" cy="320.5" r="1.75" fill="#e81c26"/>
<circle cx="610.5" cy="318.3" r="1.75" fill="#e81c26"/>
<circle cx="618.5" cy="316.3" r="1.75" fill="#e81c26"/>
<circle cx="626.5" cy="315.5" r="1.75" fill="#e81c26"/>
<circle cx="634.5" cy="313.3" r="1.75" fill="#e81c26"/>
<circle cx="642.5" cy="312.5" r="1.75" fill="#e81c26"/>
<circle cx="650.5" cy="311.7" r="1.75" fill="#e81c26"/>
<circle cx="658.5" cy="310.5" r="1.75" fill="#e81c26"/>
<circle cx="666.5" cy="308.3" r="1.75" fill="#e81c26"/>
<circle cx="674.5" cy="307.5" r="1.75" fill="#e81c26"/>
<circle cx="682.5" cy="306.7" r="1.75" fill="#e81c26"/>
<circle cx="690.5" cy="306.7" r="1.75" fill="#e81c26"/>
<circle cx="698.5" cy="306.7" r="1.75" fill="#e81c26"/>
<circle cx="706.5" cy="306.3" r="1.75" fill="#e81c26"/>
<circle cx="714.5" cy="306.7" r="1.75" fill="#e81c26"/>
<circle cx="722.5" cy="306.7" r="1.75" fill="#e81c26"/>
<circle cx="730.5" cy="306.7" r="1.75" fill="#e81c26"/>
<circle cx="738.5" cy="305.5" r="1.75" fill="#e81c26"/>
<circle cx="746.5" cy="305.5" r="1.75" fill="#e81c26"/>
<circle cx="754.5" cy="305.5" r="1.75" fill="#e81c26"/>
<circle cx="762.5" cy="305.5" r="1.75" fill="#e81c26"/>
<circle cx="770.5" cy="303.3" r="1.75" fill="#e81c26"/>
<circle cx="778.5" cy="301.3" r="1.75" fill="#e81c26"/>
<circle cx="786.5" cy="299.2" r="1.75" fill="#e81c26"/>
<circle cx="794.5" cy="297.5" r="1.75" fill="#e81c26"/>
<circle cx="802.5" cy="293.3" r="1.75" fill="#e81c26"/>
<circle cx="810.5" cy="289.2" r="1.75" fill="#e81c26"/>
<circle cx="818.5" cy="286.3" r="1.75" fill="#e81c26"/>
<circle cx="826.5" cy="282.5" r="1.75" fill="#e81c26"/>
<circle cx="834.5" cy="280.3" r="1.75" fill="#e81c26"/>
<circle cx="842.5" cy="277.5" r="1.75" fill="#e81c26"/>
<circle cx="850.5" cy="275.3" r="1.75" fill="#e81c26"/>
<circle cx="857.5" cy="274.5" r="1.75" fill="#e81c26"/>
<circle cx="865.5" cy="273.7" r="1.75" fill="#e81c26"/>
<circle cx="873.5" cy="273.3" r="1.75" fill="#e81c26"/>
<rect x="17" y="266" width="31" height="13" fill="#3b4049"/>
<text x="18.3" y="277.2" fill="#14146e" textLength="29" lengthAdjust="spacingAndGlyphs">MACD</text>
<g clip-path="url(#c3)">
<polygon points="16.5,403.5 16.5,377.3 19.7,379.3 26.5,381.0 34.5,382.5 42.5,383.0 50.5,383.5 58.5,384.0 66.5,383.0 69.7,379.7 74.7,371.8 82.2,368.0 91.3,372.7 103.0,379.7 114.5,381.5 122.5,383.0 130.5,384.0 138.5,384.8 144.7,385.2 153.0,386.0 161.3,387.7 166.5,389.3 179.0,389.3 181.7,387.3 188.3,383.5 195.0,378.5 202.5,376.8 210.0,371.3 218.3,376.0 226.7,374.0 233.3,372.3 246.7,372.3 250.0,373.0 258.3,373.0 265.0,369.0 285.0,369.0 290.0,368.0 296.7,370.7 305.0,371.8 310.0,375.2 315.0,379.3 321.7,376.0 325.0,379.3 330.8,386.0 336.7,387.7 339.2,389.3 345.8,399.0 358.3,399.3 360.0,400.7 370.0,400.7 379.2,390.2 386.7,376.8 394.2,380.7 398.3,379.3 413.3,379.3 416.7,380.7 420.8,380.7 423.3,379.3 431.7,378.5 436.7,378.5 441.7,379.7 446.7,379.7 458.5,382.0 466.5,385.0 474.5,388.0 482.5,390.5 490.5,392.0 498.5,393.0 505.0,392.5 513.3,390.2 516.7,391.8 522.5,396.3 529.2,386.8 538.3,386.3 550.0,386.3 555.0,387.3 562.5,371.8 570.8,379.7 585.0,370.2 590.0,369.0 596.7,369.0 601.7,366.8 610.8,375.7 618.3,373.5 625.0,370.7 633.3,370.7 641.7,374.7 650.8,371.8 658.3,362.3 666.7,368.5 675.0,368.5 682.5,376.3 690.0,377.3 698.3,379.7 706.7,373.5 714.2,371.8 722.5,367.3 730.0,366.3 738.3,371.8 746.7,375.7 754.2,371.3 762.5,373.5 770.8,356.8 778.3,356.3 786.7,357.3 794.2,355.7 802.5,348.5 810.0,346.3 818.3,354.0 826.7,355.7 834.2,358.5 842.5,353.0 850.0,356.8 857.5,361.3 865.0,361.3 872.5,359.7 872.5,403.5" fill="url(#rsif)"/>
<path d="M16.5 351 H872.5" stroke="#1010a4" stroke-width="1.4" fill="none"/>
<path d="M16.5 389 H872.5" stroke="#1010a4" stroke-width="1.4" fill="none"/>
<path d="M16.5 377.3 L19.7 379.3" stroke="#e8862c" stroke-width="1.1" stroke-linecap="round" fill="none"/>
<path d="M19.7 379.3 L26.5 381.0" stroke="#e8862c" stroke-width="1.1" stroke-linecap="round" fill="none"/>
<path d="M26.5 381.0 L34.5 382.5" stroke="#e8862c" stroke-width="1.1" stroke-linecap="round" fill="none"/>
<path d="M34.5 382.5 L42.5 383.0" stroke="#e8862c" stroke-width="1.1" stroke-linecap="round" fill="none"/>
<path d="M42.5 383.0 L50.5 383.5" stroke="#e8862c" stroke-width="1.1" stroke-linecap="round" fill="none"/>
<path d="M50.5 383.5 L58.5 384.0" stroke="#e8862c" stroke-width="1.1" stroke-linecap="round" fill="none"/>
<path d="M58.5 384.0 L66.5 383.0" stroke="#e8862c" stroke-width="1.1" stroke-linecap="round" fill="none"/>
<path d="M66.5 383.0 L69.7 379.7" stroke="#e8862c" stroke-width="1.1" stroke-linecap="round" fill="none"/>
<path d="M69.7 379.7 L74.7 371.8" stroke="#e8862c" stroke-width="1.1" stroke-linecap="round" fill="none"/>
<path d="M74.7 371.8 L82.2 368.0" stroke="#e8862c" stroke-width="1.1" stroke-linecap="round" fill="none"/>
<path d="M82.2 368.0 L91.3 372.7" stroke="#e8862c" stroke-width="1.1" stroke-linecap="round" fill="none"/>
<path d="M91.3 372.7 L103.0 379.7" stroke="#e8862c" stroke-width="1.1" stroke-linecap="round" fill="none"/>
<path d="M103.0 379.7 L114.5 381.5" stroke="#e8862c" stroke-width="1.1" stroke-linecap="round" fill="none"/>
<path d="M114.5 381.5 L122.5 383.0" stroke="#e8862c" stroke-width="1.1" stroke-linecap="round" fill="none"/>
<path d="M122.5 383.0 L130.5 384.0" stroke="#e8862c" stroke-width="1.1" stroke-linecap="round" fill="none"/>
<path d="M130.5 384.0 L138.5 384.8" stroke="#e8862c" stroke-width="1.1" stroke-linecap="round" fill="none"/>
<path d="M138.5 384.8 L144.7 385.2" stroke="#e8862c" stroke-width="1.1" stroke-linecap="round" fill="none"/>
<path d="M144.7 385.2 L153.0 386.0" stroke="#e8862c" stroke-width="1.1" stroke-linecap="round" fill="none"/>
<path d="M153.0 386.0 L161.3 387.7" stroke="#e8862c" stroke-width="1.1" stroke-linecap="round" fill="none"/>
<path d="M161.3 387.7 L166.5 389.3" stroke="#e8862c" stroke-width="1.1" stroke-linecap="round" fill="none"/>
<path d="M166.5 389.3 L179.0 389.3" stroke="#20c8b0" stroke-width="1.1" stroke-linecap="round" fill="none"/>
<path d="M179.0 389.3 L181.7 387.3" stroke="#e8862c" stroke-width="1.1" stroke-linecap="round" fill="none"/>
<path d="M181.7 387.3 L188.3 383.5" stroke="#e8862c" stroke-width="1.1" stroke-linecap="round" fill="none"/>
<path d="M188.3 383.5 L195.0 378.5" stroke="#e8862c" stroke-width="1.1" stroke-linecap="round" fill="none"/>
<path d="M195.0 378.5 L202.5 376.8" stroke="#e8862c" stroke-width="1.1" stroke-linecap="round" fill="none"/>
<path d="M202.5 376.8 L210.0 371.3" stroke="#e8862c" stroke-width="1.1" stroke-linecap="round" fill="none"/>
<path d="M210.0 371.3 L218.3 376.0" stroke="#e8862c" stroke-width="1.1" stroke-linecap="round" fill="none"/>
<path d="M218.3 376.0 L226.7 374.0" stroke="#e8862c" stroke-width="1.1" stroke-linecap="round" fill="none"/>
<path d="M226.7 374.0 L233.3 372.3" stroke="#e8862c" stroke-width="1.1" stroke-linecap="round" fill="none"/>
<path d="M233.3 372.3 L246.7 372.3" stroke="#e8862c" stroke-width="1.1" stroke-linecap="round" fill="none"/>
<path d="M246.7 372.3 L250.0 373.0" stroke="#e8862c" stroke-width="1.1" stroke-linecap="round" fill="none"/>
<path d="M250.0 373.0 L258.3 373.0" stroke="#e8862c" stroke-width="1.1" stroke-linecap="round" fill="none"/>
<path d="M258.3 373.0 L265.0 369.0" stroke="#e8862c" stroke-width="1.1" stroke-linecap="round" fill="none"/>
<path d="M265.0 369.0 L285.0 369.0" stroke="#e8862c" stroke-width="1.1" stroke-linecap="round" fill="none"/>
<path d="M285.0 369.0 L290.0 368.0" stroke="#e8862c" stroke-width="1.1" stroke-linecap="round" fill="none"/>
<path d="M290.0 368.0 L296.7 370.7" stroke="#e8862c" stroke-width="1.1" stroke-linecap="round" fill="none"/>
<path d="M296.7 370.7 L305.0 371.8" stroke="#e8862c" stroke-width="1.1" stroke-linecap="round" fill="none"/>
<path d="M305.0 371.8 L310.0 375.2" stroke="#e8862c" stroke-width="1.1" stroke-linecap="round" fill="none"/>
<path d="M310.0 375.2 L315.0 379.3" stroke="#e8862c" stroke-width="1.1" stroke-linecap="round" fill="none"/>
<path d="M315.0 379.3 L321.7 376.0" stroke="#e8862c" stroke-width="1.1" stroke-linecap="round" fill="none"/>
<path d="M321.7 376.0 L325.0 379.3" stroke="#e8862c" stroke-width="1.1" stroke-linecap="round" fill="none"/>
<path d="M325.0 379.3 L330.8 386.0" stroke="#e8862c" stroke-width="1.1" stroke-linecap="round" fill="none"/>
<path d="M330.8 386.0 L336.7 387.7" stroke="#e8862c" stroke-width="1.1" stroke-linecap="round" fill="none"/>
<path d="M336.7 387.7 L339.2 389.3" stroke="#e8862c" stroke-width="1.1" stroke-linecap="round" fill="none"/>
<path d="M339.2 389.3 L345.8 399.0" stroke="#2ad02a" stroke-width="1.1" stroke-linecap="round" fill="none"/>
<path d="M345.8 399.0 L358.3 399.3" stroke="#2ad02a" stroke-width="1.1" stroke-linecap="round" fill="none"/>
<path d="M358.3 399.3 L360.0 400.7" stroke="#2ad02a" stroke-width="1.1" stroke-linecap="round" fill="none"/>
<path d="M360.0 400.7 L370.0 400.7" stroke="#2ad02a" stroke-width="1.1" stroke-linecap="round" fill="none"/>
<path d="M370.0 400.7 L379.2 390.2" stroke="#2ad02a" stroke-width="1.1" stroke-linecap="round" fill="none"/>
<path d="M379.2 390.2 L386.7 376.8" stroke="#e8862c" stroke-width="1.1" stroke-linecap="round" fill="none"/>
<path d="M386.7 376.8 L394.2 380.7" stroke="#e8862c" stroke-width="1.1" stroke-linecap="round" fill="none"/>
<path d="M394.2 380.7 L398.3 379.3" stroke="#e8862c" stroke-width="1.1" stroke-linecap="round" fill="none"/>
<path d="M398.3 379.3 L413.3 379.3" stroke="#e8862c" stroke-width="1.1" stroke-linecap="round" fill="none"/>
<path d="M413.3 379.3 L416.7 380.7" stroke="#e8862c" stroke-width="1.1" stroke-linecap="round" fill="none"/>
<path d="M416.7 380.7 L420.8 380.7" stroke="#e8862c" stroke-width="1.1" stroke-linecap="round" fill="none"/>
<path d="M420.8 380.7 L423.3 379.3" stroke="#e8862c" stroke-width="1.1" stroke-linecap="round" fill="none"/>
<path d="M423.3 379.3 L431.7 378.5" stroke="#e8862c" stroke-width="1.1" stroke-linecap="round" fill="none"/>
<path d="M431.7 378.5 L436.7 378.5" stroke="#e8862c" stroke-width="1.1" stroke-linecap="round" fill="none"/>
<path d="M436.7 378.5 L441.7 379.7" stroke="#e8862c" stroke-width="1.1" stroke-linecap="round" fill="none"/>
<path d="M441.7 379.7 L446.7 379.7" stroke="#e8862c" stroke-width="1.1" stroke-linecap="round" fill="none"/>
<path d="M446.7 379.7 L458.5 382.0" stroke="#e8862c" stroke-width="1.1" stroke-linecap="round" fill="none"/>
<path d="M458.5 382.0 L466.5 385.0" stroke="#e8862c" stroke-width="1.1" stroke-linecap="round" fill="none"/>
<path d="M466.5 385.0 L474.5 388.0" stroke="#e8862c" stroke-width="1.1" stroke-linecap="round" fill="none"/>
<path d="M474.5 388.0 L482.5 390.5" stroke="#2ad02a" stroke-width="1.1" stroke-linecap="round" fill="none"/>
<path d="M482.5 390.5 L490.5 392.0" stroke="#2ad02a" stroke-width="1.1" stroke-linecap="round" fill="none"/>
<path d="M490.5 392.0 L498.5 393.0" stroke="#2ad02a" stroke-width="1.1" stroke-linecap="round" fill="none"/>
<path d="M498.5 393.0 L505.0 392.5" stroke="#2ad02a" stroke-width="1.1" stroke-linecap="round" fill="none"/>
<path d="M505.0 392.5 L513.3 390.2" stroke="#2ad02a" stroke-width="1.1" stroke-linecap="round" fill="none"/>
<path d="M513.3 390.2 L516.7 391.8" stroke="#2ad02a" stroke-width="1.1" stroke-linecap="round" fill="none"/>
<path d="M516.7 391.8 L522.5 396.3" stroke="#2ad02a" stroke-width="1.1" stroke-linecap="round" fill="none"/>
<path d="M522.5 396.3 L529.2 386.8" stroke="#e8862c" stroke-width="1.1" stroke-linecap="round" fill="none"/>
<path d="M529.2 386.8 L538.3 386.3" stroke="#e8862c" stroke-width="1.1" stroke-linecap="round" fill="none"/>
<path d="M538.3 386.3 L550.0 386.3" stroke="#e8862c" stroke-width="1.1" stroke-linecap="round" fill="none"/>
<path d="M550.0 386.3 L555.0 387.3" stroke="#e8862c" stroke-width="1.1" stroke-linecap="round" fill="none"/>
<path d="M555.0 387.3 L562.5 371.8" stroke="#e8862c" stroke-width="1.1" stroke-linecap="round" fill="none"/>
<path d="M562.5 371.8 L570.8 379.7" stroke="#e8862c" stroke-width="1.1" stroke-linecap="round" fill="none"/>
<path d="M570.8 379.7 L585.0 370.2" stroke="#e8862c" stroke-width="1.1" stroke-linecap="round" fill="none"/>
<path d="M585.0 370.2 L590.0 369.0" stroke="#e8862c" stroke-width="1.1" stroke-linecap="round" fill="none"/>
<path d="M590.0 369.0 L596.7 369.0" stroke="#e8862c" stroke-width="1.1" stroke-linecap="round" fill="none"/>
<path d="M596.7 369.0 L601.7 366.8" stroke="#e8862c" stroke-width="1.1" stroke-linecap="round" fill="none"/>
<path d="M601.7 366.8 L610.8 375.7" stroke="#e8862c" stroke-width="1.1" stroke-linecap="round" fill="none"/>
<path d="M610.8 375.7 L618.3 373.5" stroke="#e8862c" stroke-width="1.1" stroke-linecap="round" fill="none"/>
<path d="M618.3 373.5 L625.0 370.7" stroke="#e8862c" stroke-width="1.1" stroke-linecap="round" fill="none"/>
<path d="M625.0 370.7 L633.3 370.7" stroke="#e8862c" stroke-width="1.1" stroke-linecap="round" fill="none"/>
<path d="M633.3 370.7 L641.7 374.7" stroke="#e8862c" stroke-width="1.1" stroke-linecap="round" fill="none"/>
<path d="M641.7 374.7 L650.8 371.8" stroke="#e8862c" stroke-width="1.1" stroke-linecap="round" fill="none"/>
<path d="M650.8 371.8 L658.3 362.3" stroke="#e8862c" stroke-width="1.1" stroke-linecap="round" fill="none"/>
<path d="M658.3 362.3 L666.7 368.5" stroke="#e8862c" stroke-width="1.1" stroke-linecap="round" fill="none"/>
<path d="M666.7 368.5 L675.0 368.5" stroke="#e8862c" stroke-width="1.1" stroke-linecap="round" fill="none"/>
<path d="M675.0 368.5 L682.5 376.3" stroke="#e8862c" stroke-width="1.1" stroke-linecap="round" fill="none"/>
<path d="M682.5 376.3 L690.0 377.3" stroke="#e8862c" stroke-width="1.1" stroke-linecap="round" fill="none"/>
<path d="M690.0 377.3 L698.3 379.7" stroke="#e8862c" stroke-width="1.1" stroke-linecap="round" fill="none"/>
<path d="M698.3 379.7 L706.7 373.5" stroke="#e8862c" stroke-width="1.1" stroke-linecap="round" fill="none"/>
<path d="M706.7 373.5 L714.2 371.8" stroke="#e8862c" stroke-width="1.1" stroke-linecap="round" fill="none"/>
<path d="M714.2 371.8 L722.5 367.3" stroke="#e8862c" stroke-width="1.1" stroke-linecap="round" fill="none"/>
<path d="M722.5 367.3 L730.0 366.3" stroke="#e8862c" stroke-width="1.1" stroke-linecap="round" fill="none"/>
<path d="M730.0 366.3 L738.3 371.8" stroke="#e8862c" stroke-width="1.1" stroke-linecap="round" fill="none"/>
<path d="M738.3 371.8 L746.7 375.7" stroke="#e8862c" stroke-width="1.1" stroke-linecap="round" fill="none"/>
<path d="M746.7 375.7 L754.2 371.3" stroke="#e8862c" stroke-width="1.1" stroke-linecap="round" fill="none"/>
<path d="M754.2 371.3 L762.5 373.5" stroke="#e8862c" stroke-width="1.1" stroke-linecap="round" fill="none"/>
<path d="M762.5 373.5 L770.8 356.8" stroke="#e8862c" stroke-width="1.1" stroke-linecap="round" fill="none"/>
<path d="M770.8 356.8 L778.3 356.3" stroke="#e8862c" stroke-width="1.1" stroke-linecap="round" fill="none"/>
<path d="M778.3 356.3 L786.7 357.3" stroke="#e8862c" stroke-width="1.1" stroke-linecap="round" fill="none"/>
<path d="M786.7 357.3 L794.2 355.7" stroke="#e8862c" stroke-width="1.1" stroke-linecap="round" fill="none"/>
<path d="M794.2 355.7 L802.5 348.5" stroke="#d020d0" stroke-width="1.1" stroke-linecap="round" fill="none"/>
<path d="M802.5 348.5 L810.0 346.3" stroke="#d020d0" stroke-width="1.1" stroke-linecap="round" fill="none"/>
<path d="M810.0 346.3 L818.3 354.0" stroke="#e8862c" stroke-width="1.1" stroke-linecap="round" fill="none"/>
<path d="M818.3 354.0 L826.7 355.7" stroke="#e8862c" stroke-width="1.1" stroke-linecap="round" fill="none"/>
<path d="M826.7 355.7 L834.2 358.5" stroke="#e8862c" stroke-width="1.1" stroke-linecap="round" fill="none"/>
<path d="M834.2 358.5 L842.5 353.0" stroke="#e8862c" stroke-width="1.1" stroke-linecap="round" fill="none"/>
<path d="M842.5 353.0 L850.0 356.8" stroke="#e8862c" stroke-width="1.1" stroke-linecap="round" fill="none"/>
<path d="M850.0 356.8 L857.5 361.3" stroke="#e8862c" stroke-width="1.1" stroke-linecap="round" fill="none"/>
<path d="M857.5 361.3 L865.0 361.3" stroke="#e8862c" stroke-width="1.1" stroke-linecap="round" fill="none"/>
<path d="M865.0 361.3 L872.5 359.7" stroke="#e8862c" stroke-width="1.1" stroke-linecap="round" fill="none"/>
</g>
<rect x="17" y="346" width="17" height="11" fill="#4a4845"/>
<text x="18.3" y="355.2" fill="#f0a050" textLength="15" lengthAdjust="spacingAndGlyphs">RSI</text>
<rect x="16.5" y="39.5" width="884.0" height="220.0" fill="none" stroke="#a2b4c5" stroke-width="1"/>
<rect x="16.5" y="265.5" width="884.0" height="72.0" fill="none" stroke="#a2b4c5" stroke-width="1"/>
<rect x="16.5" y="343.5" width="884.0" height="60.0" fill="none" stroke="#a2b4c5" stroke-width="1"/>
<text x="907.6" y="68.8" fill="#ffffff" stroke="#ffffff" stroke-width="0.3" textLength="32.8" lengthAdjust="spacingAndGlyphs">107.60</text>
<text x="907.6" y="98.8" fill="#ffffff" stroke="#ffffff" stroke-width="0.3" textLength="32.8" lengthAdjust="spacingAndGlyphs">107.40</text>
<text x="907.6" y="128.8" fill="#ffffff" stroke="#ffffff" stroke-width="0.3" textLength="32.8" lengthAdjust="spacingAndGlyphs">107.20</text>
<text x="907.6" y="157.8" fill="#ffffff" stroke="#ffffff" stroke-width="0.3" textLength="32.8" lengthAdjust="spacingAndGlyphs">107.00</text>
<text x="907.6" y="187.8" fill="#ffffff" stroke="#ffffff" stroke-width="0.3" textLength="32.8" lengthAdjust="spacingAndGlyphs">106.80</text>
<text x="907.6" y="217.8" fill="#ffffff" stroke="#ffffff" stroke-width="0.3" textLength="32.8" lengthAdjust="spacingAndGlyphs">106.60</text>
<text x="907.6" y="247.8" fill="#ffffff" stroke="#ffffff" stroke-width="0.3" textLength="32.8" lengthAdjust="spacingAndGlyphs">106.40</text>
<rect x="900" y="119" width="48" height="21" fill="#ffffff"/>
<text x="908.3" y="133" fill="#403a4c" stroke="#403a4c" stroke-width="0.15" textLength="33" lengthAdjust="spacingAndGlyphs">107.15</text>
<text x="909" y="307.3" fill="#ffffff" stroke="#ffffff" stroke-width="0.3" textLength="17" lengthAdjust="spacingAndGlyphs">-0.0</text>
<text x="908.3" y="375.8" fill="#ffffff" stroke="#ffffff" stroke-width="0.3" textLength="11.5" lengthAdjust="spacingAndGlyphs">50</text>
<path d="M34.5 403.5 V407" stroke="#a2b4c5" stroke-width="1" fill="none"/>
<path d="M106.5 403.5 V407" stroke="#a2b4c5" stroke-width="1" fill="none"/>
<path d="M154.5 403.5 V407" stroke="#a2b4c5" stroke-width="1" fill="none"/>
<path d="M202.5 403.5 V407" stroke="#a2b4c5" stroke-width="1" fill="none"/>
<path d="M298.5 403.5 V407" stroke="#a2b4c5" stroke-width="1" fill="none"/>
<path d="M346.5 403.5 V407" stroke="#a2b4c5" stroke-width="1" fill="none"/>
<path d="M394.5 403.5 V407" stroke="#a2b4c5" stroke-width="1" fill="none"/>
<path d="M490.5 403.5 V407" stroke="#a2b4c5" stroke-width="1" fill="none"/>
<path d="M538.5 403.5 V407" stroke="#a2b4c5" stroke-width="1" fill="none"/>
<path d="M586.5 403.5 V407" stroke="#a2b4c5" stroke-width="1" fill="none"/>
<path d="M682.5 403.5 V407" stroke="#a2b4c5" stroke-width="1" fill="none"/>
<path d="M730.5 403.5 V407" stroke="#a2b4c5" stroke-width="1" fill="none"/>
<path d="M778.5 403.5 V407" stroke="#a2b4c5" stroke-width="1" fill="none"/>
<path d="M873.5 403.5 V407" stroke="#a2b4c5" stroke-width="1" fill="none"/>
<text x="21.5" y="426.2" fill="#ffffff" stroke="#ffffff" stroke-width="0.3" textLength="25" lengthAdjust="spacingAndGlyphs">18:00</text>
<text x="72.2" y="426.2" fill="#ffffff" stroke="#ffffff" stroke-width="0.3" textLength="19.5" lengthAdjust="spacingAndGlyphs">3:00</text>
<text x="96.2" y="426.2" fill="#ffffff" stroke="#ffffff" stroke-width="0.3" textLength="19.5" lengthAdjust="spacingAndGlyphs">6:00</text>
<text x="141.5" y="426.2" fill="#ffffff" stroke="#ffffff" stroke-width="0.3" textLength="25" lengthAdjust="spacingAndGlyphs">12:00</text>
<text x="189.5" y="426.2" fill="#ffffff" stroke="#ffffff" stroke-width="0.3" textLength="25" lengthAdjust="spacingAndGlyphs">18:00</text>
<text x="240.2" y="426.2" fill="#ffffff" stroke="#ffffff" stroke-width="0.3" textLength="19.5" lengthAdjust="spacingAndGlyphs">0:00</text>
<text x="288.2" y="426.2" fill="#ffffff" stroke="#ffffff" stroke-width="0.3" textLength="19.5" lengthAdjust="spacingAndGlyphs">6:00</text>
<text x="333.5" y="426.2" fill="#ffffff" stroke="#ffffff" stroke-width="0.3" textLength="25" lengthAdjust="spacingAndGlyphs">12:00</text>
<text x="381.5" y="426.2" fill="#ffffff" stroke="#ffffff" stroke-width="0.3" textLength="25" lengthAdjust="spacingAndGlyphs">18:00</text>
<text x="432.2" y="426.2" fill="#ffffff" stroke="#ffffff" stroke-width="0.3" textLength="19.5" lengthAdjust="spacingAndGlyphs">0:00</text>
<text x="480.2" y="426.2" fill="#ffffff" stroke="#ffffff" stroke-width="0.3" textLength="19.5" lengthAdjust="spacingAndGlyphs">6:00</text>
<text x="525.5" y="426.2" fill="#ffffff" stroke="#ffffff" stroke-width="0.3" textLength="25" lengthAdjust="spacingAndGlyphs">12:00</text>
<text x="573.5" y="426.2" fill="#ffffff" stroke="#ffffff" stroke-width="0.3" textLength="25" lengthAdjust="spacingAndGlyphs">18:00</text>
<text x="624.2" y="426.2" fill="#ffffff" stroke="#ffffff" stroke-width="0.3" textLength="19.5" lengthAdjust="spacingAndGlyphs">0:00</text>
<text x="672.2" y="426.2" fill="#ffffff" stroke="#ffffff" stroke-width="0.3" textLength="19.5" lengthAdjust="spacingAndGlyphs">6:00</text>
<text x="717.5" y="426.2" fill="#ffffff" stroke="#ffffff" stroke-width="0.3" textLength="25" lengthAdjust="spacingAndGlyphs">12:00</text>
<text x="765.5" y="426.2" fill="#ffffff" stroke="#ffffff" stroke-width="0.3" textLength="25" lengthAdjust="spacingAndGlyphs">18:00</text>
<text x="816.2" y="426.2" fill="#ffffff" stroke="#ffffff" stroke-width="0.3" textLength="19.5" lengthAdjust="spacingAndGlyphs">0:00</text>
<text x="863.2" y="426.2" fill="#ffffff" stroke="#ffffff" stroke-width="0.3" textLength="19.5" lengthAdjust="spacingAndGlyphs">6:00</text>
<path d="M17.3 380.5 H76.8 L78.8 382.5 V397.5 L76.8 399.5 H17.3 Z" fill="url(#dl)" stroke="#b4c6d6" stroke-width="1"/>
<path d="M16.8 380 V407" stroke="#c4ece4" stroke-width="2" fill="none"/>
<text x="24.3" y="393.9" fill="#ffffff" stroke="#ffffff" stroke-width="0.3" textLength="47" lengthAdjust="spacingAndGlyphs">24.4.2020</text>
<path d="M83.3 380.5 H142.8 L144.8 382.5 V397.5 L142.8 399.5 H83.3 Z" fill="url(#dl)" stroke="#b4c6d6" stroke-width="1"/>
<path d="M82.8 380 V407" stroke="#c4ece4" stroke-width="2" fill="none"/>
<text x="90.3" y="393.9" fill="#ffffff" stroke="#ffffff" stroke-width="0.3" textLength="47" lengthAdjust="spacingAndGlyphs">27.4.2020</text>
<path d="M251.3 380.5 H310.8 L312.8 382.5 V397.5 L310.8 399.5 H251.3 Z" fill="url(#dl)" stroke="#b4c6d6" stroke-width="1"/>
<path d="M250.8 380 V407" stroke="#c4ece4" stroke-width="2" fill="none"/>
<text x="258.3" y="393.9" fill="#ffffff" stroke="#ffffff" stroke-width="0.3" textLength="47" lengthAdjust="spacingAndGlyphs">28.4.2020</text>
<path d="M443.3 380.5 H502.8 L504.8 382.5 V397.5 L502.8 399.5 H443.3 Z" fill="url(#dl)" stroke="#b4c6d6" stroke-width="1"/>
<path d="M442.8 380 V407" stroke="#c4ece4" stroke-width="2" fill="none"/>
<text x="450.3" y="393.9" fill="#ffffff" stroke="#ffffff" stroke-width="0.3" textLength="47" lengthAdjust="spacingAndGlyphs">29.4.2020</text>
<path d="M635.3 380.5 H694.8 L696.8 382.5 V397.5 L694.8 399.5 H635.3 Z" fill="url(#dl)" stroke="#b4c6d6" stroke-width="1"/>
<path d="M634.8 380 V407" stroke="#c4ece4" stroke-width="2" fill="none"/>
<text x="642.3" y="393.9" fill="#ffffff" stroke="#ffffff" stroke-width="0.3" textLength="47" lengthAdjust="spacingAndGlyphs">30.4.2020</text>
<path d="M827.3 380.5 H880.8 L882.8 382.5 V397.5 L880.8 399.5 H827.3 Z" fill="url(#dl)" stroke="#b4c6d6" stroke-width="1"/>
<path d="M826.8 380 V407" stroke="#c4ece4" stroke-width="2" fill="none"/>
<text x="834.3" y="393.9" fill="#ffffff" stroke="#ffffff" stroke-width="0.3" textLength="41" lengthAdjust="spacingAndGlyphs">1.5.2020</text>
</svg>
</body></html>
